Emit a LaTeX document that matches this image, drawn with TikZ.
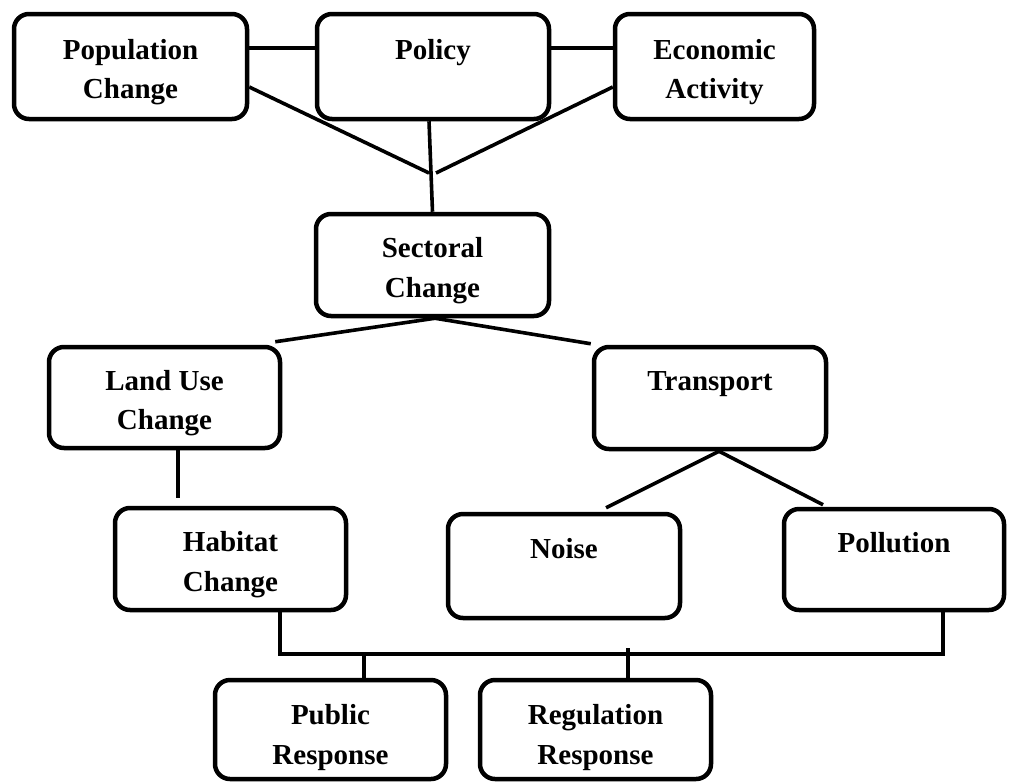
\documentclass[tikz,border=0pt]{standalone}
\usepackage{fontspec}
\setmainfont{Liberation Serif}
\usetikzlibrary{calc}
% invisible rule that sets the height of a box's first text line
\newcommand\tgap[1]{\rule{0pt}{#1}}
\begin{document}
\begin{tikzpicture}[x=1pt,y=-1pt,
  box/.style={draw=black, line width=4.5pt, rounded corners=15pt, fill=white,
    inner sep=0pt, align=center, minimum height=103pt,
    font=\fontsize{29}{39.5}\selectfont\bfseries},
  link/.style={draw=black, line width=3.6pt}]
\useasboundingbox[fill=white] (0,0) rectangle (1009,782);

% driver boxes
\node[box, minimum width=233pt, minimum height=105pt] (pop) at (130.5,66.5) {\tgap{31pt}Population\\Change};
\node[box, minimum width=232pt, minimum height=105pt] (pol) at (433,66.5) {\tgap{38pt}Policy\\\strut};
\node[box, minimum width=199pt, minimum height=105pt] (eco) at (714.5,66.5) {\tgap{31pt}Economic\\Activity};

% sectoral level
\node[box, minimum width=233pt, minimum height=102pt] (sec) at (432.5,265) {\tgap{31pt}Sectoral\\Change};
\node[box, minimum width=231pt, minimum height=101pt] (land) at (164.5,397.5) {\tgap{31pt}Land Use\\Change};
\node[box, minimum width=232pt, minimum height=102pt] (trans) at (710,398) {\tgap{37pt}Transport\\\strut};

% impacts
\node[box, minimum width=231pt, minimum height=102pt] (hab) at (230.5,559) {\tgap{31pt}Habitat\\Change};
\node[box, minimum width=232pt, minimum height=104pt] (noise) at (564,566) {\tgap{37pt}Noise\\\strut};
\node[box, minimum width=220pt, minimum height=101pt] (poll) at (894,559.5) {\tgap{37pt}Pollution\\\strut};

% responses
\node[box, minimum width=231pt, minimum height=99pt] (pub) at (330.5,729.5) {\tgap{36pt}Public\\Response};
\node[box, minimum width=231pt, minimum height=99pt] (reg) at (595.5,729.5) {\tgap{36pt}Regulation\\Response};

% junction points
\coordinate (j1) at (429,173);
\coordinate (j2) at (436,173);
\coordinate (luEnd) at (178,498);
\coordinate (busL) at (280,654);
\coordinate (busR) at (943,654);
\coordinate (tapA) at (364,654);
\coordinate (tapB) at (628,648);

% top row links
\draw[link] ($(pop.east)+(0,-18.5)$) -- ($(pol.west)+(0,-18.5)$);
\draw[link] ($(pol.east)+(0,-18.5)$) -- ($(eco.west)+(0,-18.5)$);
\draw[link] ($(pop.east)+(0,20.5)$) -- (j1);
\draw[link] ($(eco.west)+(0,20.5)$) -- (j2);
\draw[link] ($(pol.south)+(-4,0)$) -- (sec.north);

% sectoral split
\draw[link] ($(sec.south)+(2.5,0)$) -- ($(land.north east)+(-7,-3)$);
\draw[link] ($(sec.south)+(2.5,0)$) -- ($(trans.north west)+(-1,-1)$);
\draw[link] ($(land.south)+(13.5,0)$) -- (luEnd);

% transport split
\draw[link] ($(trans.south)+(9,0)$) -- ($(noise.north)+(42,-4)$);
\draw[link] ($(trans.south)+(9,0)$) -- ($(poll.north)+(-71,-2)$);

% response bus
\draw[link] ($(hab.south)+(49.5,0)$) -- (busL) -- (busR) -- ($(poll.south)+(49,0)$);
\draw[link] (tapA) -- ($(pub.north)+(33.5,0)$);
\draw[link] (tapB) -- ($(reg.north)+(32.5,0)$);
\end{tikzpicture}
\end{document}
